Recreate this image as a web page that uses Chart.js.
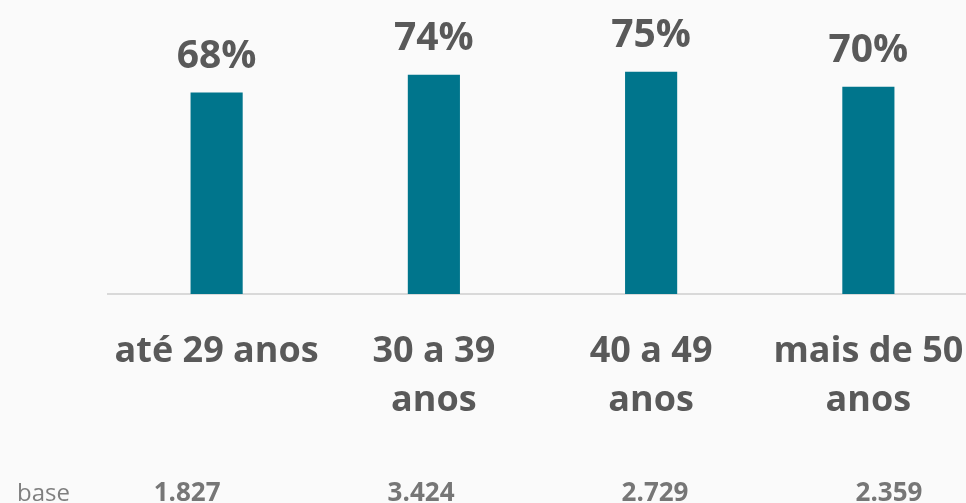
<!DOCTYPE html>
<html>
<head>
<meta charset="utf-8">
<script src="https://cdn.jsdelivr.net/npm/chart.js@4"></script>
<style>
  html, body { margin: 0; padding: 0; background: #fafafa; overflow: hidden; }
  #wrap { width: 980px; height: 503px; }
</style>
</head>
<body>
<div id="wrap"><canvas id="chart"></canvas></div>
<script>
// faixas etarias e percentuais
const faixas = [["até 29 anos"], ["30 a 39", "anos"], ["40 a 49", "anos"], ["mais de 50", "anos"]];
const percentuais = [68, 74, 75, 70];
const bases = ["1.827", "3.424", "2.729", "2.359"];
const baseLabel = "base";

const cinza = "#595959";
const fonte = "'Open Sans'";

// rotulos de valor acima das barras + linha "base"
const rotulos = {
  id: "rotulos",
  afterDatasetsDraw(chart) {
    const { ctx } = chart;
    const meta = chart.getDatasetMeta(0);
    ctx.save();
    ctx.fillStyle = cinza;
    ctx.textAlign = "center";
    ctx.textBaseline = "alphabetic";
    ctx.font = "bold 39px " + fonte;
    meta.data.forEach((bar, i) => {
      ctx.fillText(percentuais[i] + "%", bar.x, bar.y - 25);
    });
    // a linha base tem espacamento um pouco maior que as categorias
    const xs = chart.scales.x;
    ctx.fillStyle = "#767676";
    ctx.font = "bold 26px " + fonte;
    bases.forEach((b, i) => {
      ctx.fillText(b, xs.getPixelForValue(i * 1.077 - 0.136), 501);
    });
    ctx.textAlign = "left";
    ctx.fillStyle = "#7f7f7f";
    ctx.font = "24px " + fonte;
    ctx.fillText(baseLabel, 17, 501);
    ctx.restore();
  }
};

new Chart(document.getElementById("chart"), {
  type: "bar",
  data: {
    labels: faixas,
    datasets: [{
      data: percentuais,
      backgroundColor: "#00758c",
      barPercentage: 0.24,
      categoryPercentage: 1
    }]
  },
  options: {
    responsive: true,
    maintainAspectRatio: false,
    animation: false,
    layout: { padding: { left: 108, right: 3, top: 57, bottom: 0 } },
    plugins: { legend: { display: false }, tooltip: { enabled: false } },
    scales: {
      x: {
        grid: { display: false, drawTicks: false },
        border: { color: "#d9d9d9", width: 2 },
        ticks: {
          color: cinza,
          padding: 33,
          maxRotation: 0,
          autoSkip: false,
          font: { family: "Open Sans", size: 36, weight: "bold", lineHeight: 1.36 }
        },
        afterFit: (s) => {
          s.height = 209;
          s.paddingLeft = 0;
          s.paddingRight = 0;
        }
      },
      y: {
        display: false,
        min: 0,
        max: 80
      }
    }
  },
  plugins: [rotulos]
});
</script>
</body>
</html>
